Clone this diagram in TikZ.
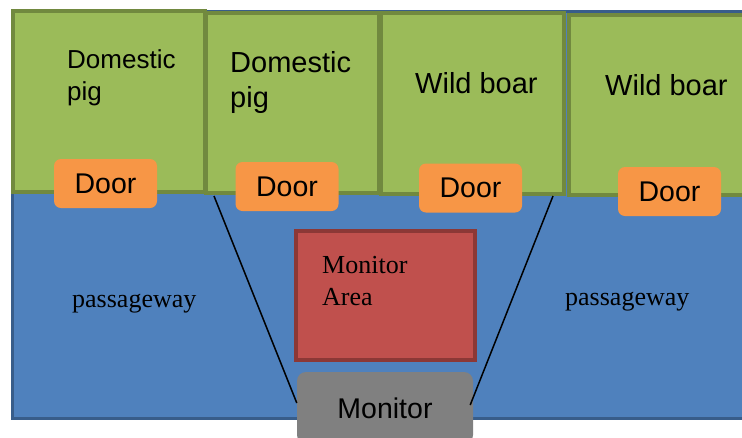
\documentclass[tikz,border=0pt]{standalone}
\usepackage{fontspec}
\setmainfont{Liberation Sans}
\newfontfamily\romanface{Liberation Serif}
\usetikzlibrary{positioning}

\definecolor{penfill}{HTML}{9BBB59}
\definecolor{penline}{HTML}{71893F}
\definecolor{floorfill}{HTML}{4F81BD}
\definecolor{floorline}{HTML}{385D8A}
\definecolor{doorfill}{HTML}{F79646}
\definecolor{areafill}{HTML}{C0504D}
\definecolor{arealine}{HTML}{8C3836}
\definecolor{monfill}{HTML}{808080}

\tikzset{
  pen/.style={draw=penline, fill=penfill, line width=3.5pt},
  door/.style={fill=doorfill, rounded corners=7pt, minimum width=103pt,
    minimum height=49pt, inner sep=0pt, font=\fontsize{28.5}{30}\selectfont},
  roomtext/.style={align=left, inner sep=0pt, anchor=base west},
  serif/.style={inner sep=0pt, anchor=base west, align=left,
    font=\romanface\fontsize{26}{32}\selectfont},
  sight/.style={black, line width=1.5pt},
}

\begin{document}
\begin{tikzpicture}[x=1pt, y=-1pt]
  \useasboundingbox (0,0) rectangle (742,437);

  % passageway floor
  \draw[draw=floorline, fill=floorfill, line width=3pt] (12,11) rectangle (770,418);

  % pens
  \draw[pen] (13,11) rectangle (205,192);
  \draw[pen] (206,13) rectangle (379,193);
  \draw[pen] (381,13) rectangle (564,194);
  \draw[pen] (569,15) rectangle (770,195);

  % base anchor of two lines sits on the last line
  \node[roomtext, font=\fontsize{26}{32}\selectfont] (pig1) at (67,100) {Domestic\\pig};
  \node[roomtext, font=\fontsize{29}{35}\selectfont] (pig2) at (230,107) {Domestic\\pig};
  \node[roomtext, font=\fontsize{29}{35}\selectfont] (boar1) at (415,93) {Wild boar};
  \node[roomtext, font=\fontsize{29}{35}\selectfont] (boar2) at (605,95) {Wild boar};

  % monitor and its sight lines
  \node[fill=monfill, rounded corners=9pt, minimum width=176pt, minimum height=72pt,
    inner sep=0pt, font=\fontsize{28.5}{30}\selectfont] (monitor) at (385,408) {Monitor};
  \coordinate (leftend) at (214,196);
  \coordinate (rightend) at (553,196);
  \draw[sight] (leftend) -- ([yshift=5pt]monitor.west);
  \draw[sight] (rightend) -- ([xshift=-3pt,yshift=3pt]monitor.east);

  % doors
  \node[door] (door1) at (105.5,183.5) {Door};
  \node[door] (door2) at (287,186.5) {Door};
  \node[door] (door3) at (470.5,188) {Door};
  \node[door] (door4) at (669.5,191.5) {Door};

  % monitor area
  \node[draw=arealine, fill=areafill, line width=4pt, minimum width=179pt,
    minimum height=129pt, inner sep=0pt] (area) at (385.5,295.5) {};
  \node[serif] (arealabel) at (322,305) {Monitor\\Area};

  \node[serif] (way1) at (72,307) {passageway};
  \node[serif] (way2) at (565,305) {passageway};
\end{tikzpicture}
\end{document}
